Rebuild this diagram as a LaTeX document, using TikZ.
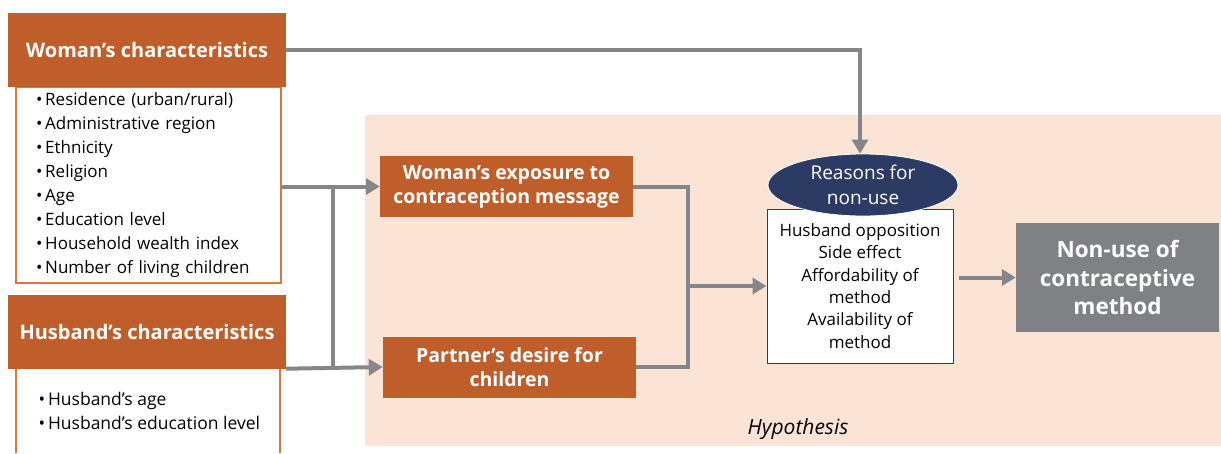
\documentclass[tikz,border=0pt]{standalone}
\usepackage{fontspec}
\setmainfont{Open Sans}
\usetikzlibrary{arrows.meta,shapes.geometric}
\definecolor{rust}{RGB}{191,94,43}
\definecolor{rustline}{RGB}{214,120,66}
\definecolor{bgpink}{RGB}{251,228,214}
\definecolor{navy}{RGB}{44,59,99}
\definecolor{boxgray}{RGB}{128,129,133}
\definecolor{arrowgray}{RGB}{133,134,137}

\begin{document}
\begin{tikzpicture}[x=1pt, y=-1pt,
	head/.style={fill=rust, text=white, inner sep=0pt, minimum width=278pt, minimum height=74pt,
		font=\fontsize{20}{24}\selectfont\bfseries},
	factor/.style={fill=rust, text=white, inner sep=0pt, minimum width=253pt, minimum height=61pt,
		align=center, font=\fontsize{19.5}{24}\selectfont\bfseries},
	listbox/.style={draw=rustline, line width=1.2pt, fill=white, inner xsep=20pt, inner ysep=0pt,
		minimum width=265pt, minimum height=196pt, align=left, text width=225pt,
		font=\fontsize{17}{24}\selectfont},
	link/.style={draw=arrowgray, line width=4pt},
	arr/.style={link, -{Triangle[length=14pt, width=16pt]}}
]
	\useasboundingbox (0,0) rectangle (1221,453);
	% hypothesis area
	\fill[bgpink] (365,115) rectangle (1221,446);
	\node[font=\fontsize{21}{24}\selectfont\itshape] (hyp) at (798,429) {Hypothesis};

	% woman
	\node[listbox] (wlist) at (148.5,185) {\textbullet\,Residence (urban/rural)\\ \textbullet\,Administrative region\\
		\textbullet\,Ethnicity\\ \textbullet\,Religion\\ \textbullet\,Age\\ \textbullet\,Education level\\
		\textbullet\,Household wealth index\\ \textbullet\,Number of living children};
	\node[head] (wchar) at (147,50) {Woman’s characteristics};

	% husband
	\draw[rustline, line width=1.2pt] (16,453) -- (16,368) -- (280,368) -- (280,453);
	\node[font=\fontsize{17.5}{24}\selectfont, align=left, anchor=west] (hlist) at (35,411)
		{\textbullet\,Husband’s age\\ \textbullet\,Husband’s education level};
	\node[head] (hchar) at (147,331.5) {Husband’s characteristics};

	% intermediate factors
	\node[factor] (wexp) at (506.5,186.5) {Woman’s exposure to\\contraception message};
	\node[factor] (pdes) at (509.5,367) {Partner’s desire for\\children};

	% reasons
	\node[draw=navy, line width=1pt, fill=white, minimum width=186pt, minimum height=154pt, align=center,
		font=\fontsize{17}{22.4}\selectfont, inner sep=0pt] (rlist) at (860,286)
		{Husband opposition\\Side effect\\Affordability of\\method\\Availability of\\method};
	\node[ellipse, fill=navy, draw=white, line width=0.8pt, minimum width=190pt, minimum height=62pt,
		inner sep=0pt, text=white, align=center, font=\fontsize{19}{25}\selectfont] (reason) at (863,185)
		{Reasons for\\non-use};

	% outcome
	\node[fill=boxgray, text=white, minimum width=203pt, minimum height=109pt, inner sep=0pt, align=center,
		font=\fontsize{22.5}{28.5}\selectfont\bfseries] (nonuse) at (1117.5,277.5)
		{Non-use of\\contraceptive\\method};

	% connectors
	\coordinate (j1) at (333,0);
	\coordinate (j2) at (688,0);
	\draw[arr] (wchar.east) -| (reason.north -| rlist.north);
	\draw[arr] (wlist.east |- wexp.west) -- (wexp.west);
	\draw[arr] (hchar.south east) -- (pdes.west);
	\draw[link] (j1 |- wexp.west) -- (j1 |- hchar.south east);
	\draw[link] (wexp.east) -- (j2 |- wexp.east) -- (j2 |- pdes.east) -- (pdes.east);
	\draw[arr] (j2 |- rlist.west) -- (rlist.west);
	\draw[arr, shorten <=5pt] (rlist.east |- nonuse.west) -- (nonuse.west);
\end{tikzpicture}
\end{document}
